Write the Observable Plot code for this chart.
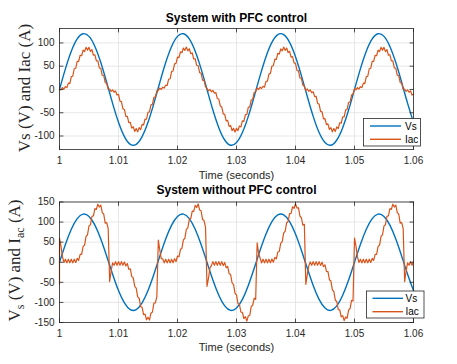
<!DOCTYPE html>
<html><head><meta charset="utf-8">
<script src="https://cdn.jsdelivr.net/npm/d3@7"></script>
<script src="https://cdn.jsdelivr.net/npm/@observablehq/plot@0.6"></script>
<style>
html,body{margin:0;padding:0;background:#fff;}
#chart{position:relative;width:457px;height:364px;overflow:hidden;background:#fff;}
#chart svg{position:absolute;left:0;}
</style></head><body><div id="chart"></div>
<script>
// ---- data ----
const titles = ["System with PFC control", "System without PFC control"];
const xLabel = "Time (seconds)";
const seriesNames = ["Vs", "Iac"];
const xTicks = [1, 1.01, 1.02, 1.03, 1.04, 1.05, 1.06];
const xTickLabels = ["1", "1.01", "1.02", "1.03", "1.04", "1.05", "1.06"];
const yTicksTop = [-100, -50, 0, 50, 100];
const yTickLabelsTop = ["-100", "-50", "0", "50", "100"];
const yTicksBottom = [-150, -100, -50, 0, 50, 100, 150];
const yTickLabelsBottom = ["-150", "-100", "-50", "0", "50", "100", "150"];

// supply voltage, sampled every 1 ms from t = 1 s
const vsStep = 0.001;
const vs = [0, 44.2, 82.1, 108.6, 119.8, 114.1, 92.5, 57.8, 15.0, -29.8, -70.5,
  -101.3, -117.9, -117.9, -101.3, -70.5, -29.8, 15.0, 57.8, 92.5, 114.1,
  119.8, 108.6, 82.1, 44.2, 0, -44.2, -82.1, -108.6, -119.8, -114.1,
  -92.5, -57.8, -15.0, 29.8, 70.5, 101.3, 117.9, 117.9, 101.3, 70.5,
  29.8, -15.0, -57.8, -92.5, -114.1, -119.8, -108.6, -82.1, -44.2, 0,
  44.2, 82.1, 108.6, 119.8, 114.1, 92.5, 57.8, 15.0, -29.8, -70.5];

// line current, sampled every 0.25 ms from t = 1 s
const iacStep = 0.00025;
const iacWithPFC = [
  0, -1, 4, 1, 6, 4, 13.5, 12.5, 27.5, 28.5, 44.5, 45.5, 60.5, 60.5, 73.5, 72.5, 84.5, 81.5, 90.5, 84.5, 90.5, 81.5, 85.5, 73.5, 74.5, 61.5, 61.5, 46.5, 45.5, 30.5, 29.5, 14.5, 13.5, 1,
  1, -4, -1, -6, -3, -12, -10.5, -25, -26, -41.5, -43, -58, -58, -71.5, -70.5, -83, -80, -90, -84, -91, -82, -86.5, -75, -76.5, -63.5, -64, -49, -48, -33, -32, -17, -16, -3,
  -2, 3, 0, 5, 3, 9, 8.5, 22, 23, 38.5, 40, 55, 56, 69.5, 68.5, 81, 79, 89, 84, 91, 83, 87.5, 77, 78.5, 65.5, 66, 52, 51, 36, 35, 20, 19, 6,
  2, -3, 0, -5, -2, -8, -6.5, -19.5, -20.5, -35.5, -37.5, -52.5, -53.5, -67.5, -66.5, -79.5, -77.5, -88.5, -83.5, -91.5, -83.5, -88.5, -78.5, -80.5, -67.5, -68.5, -54.5, -53.5, -38.5, -37.5, -22.5, -21.5, -6.5, -5,
  3, 0, 5, 2, 7, 5, 17.5, 18, 33, 34.5, 50, 51, 65, 64.5, 77.5, 76, 87, 83, 91, 84, 89, 79.5, 82, 69.5, 70.5, 57, 56, 41, 40, 25, 24, 9, 7,
  -2, 1, -4, -1, -7, -5, -15.5, -15, -30, -31.5, -47, -48, -63, -62.5, -75.5, -74, -86, -82, -91, -84, -90, -80.5, -84, -71.5, -72.5, -59, -59, -44, -43, -28, -27, -12, -10,
  2, -1, 4, 1, 6, 4, 13.5, 12.5, 27.5, 28.5, 44.5, 45.5, 60.5, 60.5, 73.5, 72.5, 84.5, 81.5, 90.5, 84.5, 90.5, 81.5, 85.5, 73.5, 74.5, 61.5, 61.5, 46.5, 45.5, 30.5, 29.5, 14.5, 13.5, 1,
  1, -4, -1, -6, -3, -12, -10.5];

// value just before the jump at t = 1 s, then the same 0.25 ms grid
const iacWithoutPFCStart = -55;
const iacWithoutPFC = [
  60, 40, 14, -0.5, 7.5, -1.5, 7.5, -1.5, 7.5, -1.5, 7.5, -0.5, 9.5, 4.5, 19.5, 19.5, 39.5, 42.5, 64.5, 68.5, 90.5, 93.5, 114.5, 115.5, 133.5, 131.5, 144.5, 137.5, 142.5, 123.5, 119.5, 97.5, 98.5, 83.5,
  -48, -22, -1.5, -7.5, 1.5, -7.5, 1.5, -7.5, 1.5, -7.5, 0.8, -9.2, -3.2, -17.5, -16.5, -35.8, -38.5, -60.2, -64.2, -86.2, -89.5, -110.5, -112.2, -130.5, -129.2, -143.2, -136.8, -143.8, -126.8, -123.8, -101.8, -101.2, -85.5,
  55, 30, 9, 8.2, -1.5, 7.5, -1.5, 7.5, -1.5, 7.5, -1.2, 8.8, 1.8, 15.5, 13.5, 32.2, 34.5, 55.8, 59.8, 81.8, 85.5, 106.5, 108.8, 127.5, 126.8, 141.8, 136.2, 145.2, 130.2, 128.2, 106.2, 103.8, 87.5,
  -60, -40, -14, -8.5, 1.5, -7.5, 1.5, -7.5, 1.5, -7.5, 1.5, -8.5, -0.5, -13.5, -10.5, -28.5, -30.5, -51.5, -55.5, -77.5, -81.5, -102.5, -105.5, -124.5, -124.5, -140.5, -135.5, -146.5, -133.5, -132.5, -110.5, -106.5, -89.5, -92.5,
  48, 22, 10.5, -1.5, 7.5, -1.5, 7.5, -1.5, 7.5, -1.5, 8.2, 0.2, 12.2, 8.5, 25.5, 26.8, 47.5, 51.2, 73.2, 77.2, 98.5, 101.5, 121.2, 121.5, 138.2, 134.2, 145.8, 134.8, 135.8, 114.8, 110.8, 92.2, 94.5,
  -55, -30, -9, 0.8, -7.5, 1.5, -7.5, 1.5, -7.5, 1.5, -7.8, 0.2, -10.8, -6.5, -22.5, -23.2, -43.5, -46.8, -68.8, -72.8, -94.5, -97.5, -117.8, -118.5, -135.8, -132.8, -145.2, -136.2, -139.2, -119.2, -115.2, -94.8, -96.5,
  60, 40, 14, -0.5, 7.5, -1.5, 7.5, -1.5, 7.5, -1.5, 7.5, -0.5, 9.5, 4.5, 19.5, 19.5, 39.5, 42.5, 64.5, 68.5, 90.5, 93.5, 114.5, 115.5, 133.5, 131.5, 144.5, 137.5, 142.5, 123.5, 119.5, 97.5, 98.5, 83.5,
  -48, -22, -1.5, -7.5, 1.5, -7.5, 1.5];

// ---- drawing ----
const FONT = "'Liberation Sans', Arial, Helvetica, sans-serif";
const SERIF = "'Liberation Serif', 'Times New Roman', serif";
const AX = "#262626";
const GRID = "#e1e1e1";
const BLUE = "#0072BD", ORANGE = "#D95319";

const vsData = vs.map((v, i) => ({t: 1 + i * vsStep, v}));
const tGrid = iacWithPFC.map((_, i) => 1 + i * iacStep);
const topIac = iacWithPFC.map((v, i) => ({t: tGrid[i], v}));
const botIac = [{t: 1, v: iacWithoutPFCStart}, ...iacWithoutPFC.map((v, i) => ({t: tGrid[i], v}))];

const tickShape = {draw(ctx, l) { ctx.moveTo(0, 0); ctx.lineTo(0, -l); }};

function panel(o) {
  const fmtX = d => xTickLabels[xTicks.indexOf(d)];
  const fmtY = d => o.yLabels[o.yTicks.indexOf(d)];
  const tk = {anchor: "start", length: 3.5, shape: tickShape, stroke: AX, strokeWidth: 0.8};
  const marks = [
    Plot.gridX(xTicks, {stroke: GRID, strokeOpacity: 1, strokeWidth: 0.8}),
    Plot.gridY(o.yTicks, {stroke: GRID, strokeOpacity: 1, strokeWidth: 0.8}),
    Plot.line(vsData, {x: "t", y: "v", stroke: BLUE, strokeWidth: 1.4, curve: "natural"}),
    Plot.line(o.iac, {x: "t", y: "v", stroke: ORANGE, strokeWidth: 1.2}),
    Plot.frame({stroke: AX, strokeWidth: 0.8}),
    Plot.vector(xTicks, {x: d => d, frameAnchor: "bottom", rotate: 0, ...tk}),
    Plot.vector(xTicks, {x: d => d, frameAnchor: "top", rotate: 180, ...tk}),
    Plot.vector(o.yTicks, {y: d => d, frameAnchor: "left", rotate: 90, ...tk}),
    Plot.vector(o.yTicks, {y: d => d, frameAnchor: "right", rotate: -90, ...tk}),
    Plot.axisX(xTicks, {anchor: "bottom", tickSize: 0, tickPadding: 7, tickFormat: fmtX, label: null, fill: AX}),
    Plot.axisY(o.yTicks, {anchor: "left", tickSize: 0, tickPadding: 5, tickFormat: fmtY, label: null, fill: AX}),
    Plot.text([o.title], {frameAnchor: "top", lineAnchor: "middle", dy: o.titleDy, fontWeight: "bold", fontSize: 12, fill: "#000"}),
    Plot.text([xLabel], {frameAnchor: "bottom", lineAnchor: "middle", dy: o.xlabDy, fontSize: 11, fill: AX})
  ];
  return Plot.plot({
    width: 457, height: o.height,
    marginLeft: 59, marginRight: 44, marginTop: o.mt, marginBottom: o.mb,
    style: {fontFamily: FONT, fontSize: "10px", color: AX, background: "transparent", overflow: "visible"},
    x: {domain: [1, 1.06], label: null},
    y: {domain: o.yDomain, label: null},
    marks
  });
}

function legend(svg, x, y, w, h, ys, lx1, lx2, tx) {
  const g = d3.select(svg).append("g");
  g.append("rect").attr("x", x).attr("y", y).attr("width", w).attr("height", h)
    .attr("fill", "#fff").attr("stroke", AX).attr("stroke-width", 0.8);
  [BLUE, ORANGE].forEach((c, i) => {
    g.append("line").attr("x1", lx1).attr("x2", lx2).attr("y1", ys[i]).attr("y2", ys[i])
      .attr("stroke", c).attr("stroke-width", 1.4);
    g.append("text").attr("x", tx).attr("y", ys[i]).attr("dy", "0.35em").attr("text-anchor", "start")
      .attr("font-family", FONT).attr("font-size", 10).attr("fill", "#000").text(seriesNames[i]);
  });
}

function yLabel(svg, x, y, parts) {
  const t = d3.select(svg).append("text")
    .attr("transform", `translate(${x},${y}) rotate(-90)`)
    .attr("text-anchor", "middle").attr("font-family", SERIF).attr("font-size", 17)
    .attr("fill", AX).style("white-space", "pre");
  let sub = false;
  parts.forEach(([s, isSub]) => {
    const ts = t.append("tspan").text(s);
    if (isSub && !sub) ts.attr("font-size", 12).attr("dy", 4);
    else if (isSub) ts.attr("font-size", 12);
    else if (sub) ts.attr("dy", -4);
    sub = isSub;
  });
}

const chart = document.getElementById("chart");

const svgA = panel({height: 182, mt: 28, mb: 33, yDomain: [-129, 131], yTicks: yTicksTop, yLabels: yTickLabelsTop,
  iac: topIac, title: titles[0], titleDy: -10, xlabDy: 26});
svgA.style.top = "0px";
chart.appendChild(svgA);
legend(svgA, 363.5, 118.5, 57, 27.5, [126, 139.3], 370, 401, 405);
yLabel(svgA, 30, 88, [["Vs (V) and Iac (A)", false]]);

const svgB = panel({height: 182, mt: 19.5, mb: 42, yDomain: [-150, 150], yTicks: yTicksBottom, yLabels: yTickLabelsBottom,
  iac: botIac, title: titles[1], titleDy: -11.5, xlabDy: 25});
svgB.style.top = "182px";
chart.appendChild(svgB);
legend(svgB, 366.5, 109, 57.5, 27, [116.3, 129.7], 372.5, 403, 405.5);
yLabel(svgB, 20, 78.5, [["V", false], ["s", true], [" (V) and I", false], ["ac", true], [" (A)", false]]);
</script></body></html>
